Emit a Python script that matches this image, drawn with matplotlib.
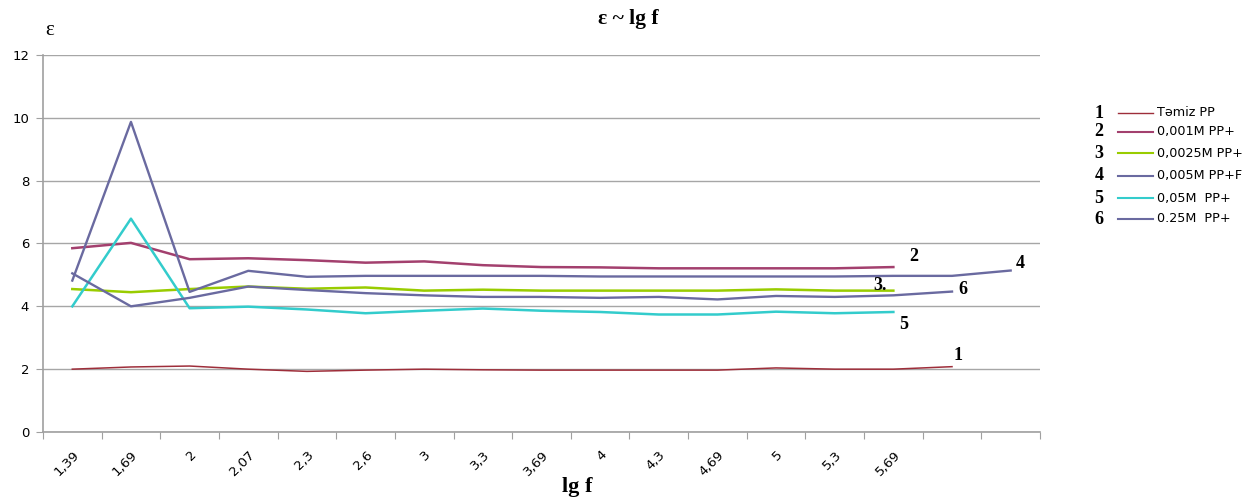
import numpy as np
import matplotlib.pyplot as plt
from matplotlib.lines import Line2D

# Category axis (lg f); the last two categories carry no label
categories = ['1,39', '1,69', '2', '2,07', '2,3', '2,6', '3', '3,3', '3,69',
              '4', '4,3', '4,69', '5', '5,3', '5,69', '', '']

# Series values
s1_tamiz = [2.0, 2.07, 2.1, 2.0, 1.93, 1.97, 2.0, 1.98, 1.97, 1.97, 1.97, 1.97,
            2.04, 2.0, 2.0, 2.08]
s2_0001 = [5.85, 6.02, 5.5, 5.53, 5.47, 5.39, 5.43, 5.31, 5.25, 5.24, 5.21,
           5.21, 5.21, 5.21, 5.25]
s3_00025 = [4.55, 4.45, 4.55, 4.63, 4.56, 4.6, 4.5, 4.53, 4.5, 4.5, 4.5, 4.5,
            4.54, 4.5, 4.5]
s4_0005 = [4.82, 9.87, 4.46, 5.13, 4.94, 4.97, 4.97, 4.97, 4.97, 4.95, 4.95,
           4.95, 4.95, 4.95, 4.97, 4.97, 5.14]
s5_005 = [4.0, 6.79, 3.94, 3.99, 3.9, 3.78, 3.86, 3.93, 3.86, 3.82, 3.74, 3.74,
          3.83, 3.78, 3.82]
s6_025 = [5.05, 4.0, 4.27, 4.63, 4.52, 4.42, 4.35, 4.3, 4.3, 4.27, 4.3, 4.22,
          4.33, 4.3, 4.35, 4.47]

series = [
    (s1_tamiz, '#9E2E3A', 1.1, 'Təmiz PP'),
    (s2_0001, '#A3406E', 1.8, '0,001M PP+'),
    (s3_00025, '#99CC00', 1.8, '0,0025M PP+'),
    (s4_0005, '#6A6AA0', 1.7, '0,005M PP+F'),
    (s5_005, '#33CCCC', 1.8, '0,05M  PP+'),
    (s6_025, '#6A6AA0', 1.7, '0.25M  PP+'),
]

# end labels (number, x position in categories, y value)
end_labels = [('2', 14.35, 5.6), ('3.', 13.78, 4.65), ('4', 16.17, 5.35),
              ('6', 15.18, 4.52), ('5', 14.18, 3.41), ('1', 15.1, 2.45)]

fig = plt.figure(figsize=(12.53, 4.98), dpi=100)
ax = fig.add_axes([0.0343, 0.1325, 0.7957, 0.7571])

for vals, color, lw, name in series:
    ax.plot(np.arange(len(vals)), vals, color=color, linewidth=lw, zorder=3)

ax.set_xlim(-0.5, len(categories) - 0.5)
ax.set_ylim(0, 12)
ax.set_yticks(np.arange(0, 13, 2))
ax.yaxis.grid(True, color='#A6A6A6', linewidth=1)
ax.set_axisbelow(True)
for side in ['top', 'right']:
    ax.spines[side].set_visible(False)
for side in ['left', 'bottom']:
    ax.spines[side].set_color('#A0A0A0')
    ax.spines[side].set_linewidth(1.2)

ax.tick_params(axis='y', length=5, color='#A0A0A0', labelsize=9.5, pad=5)
ax.set_xticks(np.arange(-0.5, len(categories), 1))
ax.set_xticklabels([])
ax.tick_params(axis='x', which='major', length=5, color='#A0A0A0')
ax.set_xticks(np.arange(len(categories)) + 0.08, minor=True)
ax.set_xticklabels(categories, minor=True, rotation=45, ha='right',
                   va='center', rotation_mode='anchor', fontsize=9.5)
ax.tick_params(axis='x', which='minor', length=0, pad=15)

for txt, x, y in end_labels:
    ax.text(x, y, txt, fontsize=13, fontweight='bold', family='Liberation Serif',
            ha='center', va='center')

# title and axis captions
fig.text(0.501, 0.962, 'ε ~ lg f', fontsize=15.5, fontweight='bold',
         family='Liberation Serif', ha='center', va='center')
fig.text(0.040, 0.938, 'ε', fontsize=15, family='Liberation Serif',
         ha='center', va='center')
fig.text(0.461, 0.022, 'lg f', fontsize=16, fontweight='bold',
         family='Liberation Serif', ha='center', va='center')

# legend on the right
legend_y = [113, 132, 153, 176, 198, 219]
for i, (vals, color, lw, name) in enumerate(series):
    yf = 1 - legend_y[i] / 498
    fig.text(1099 / 1253, yf, str(i + 1), fontsize=13, fontweight='bold',
             family='Liberation Serif', ha='center', va='center')
    fig.add_artist(Line2D([1118 / 1253, 1153 / 1253], [yf, yf], color=color,
                          linewidth=1.5 if i else 1.0, transform=fig.transFigure))
    fig.text(1157 / 1253, yf, name, fontsize=9.2, ha='left', va='center')

plt.savefig('out.png', dpi=100)
plt.close()
